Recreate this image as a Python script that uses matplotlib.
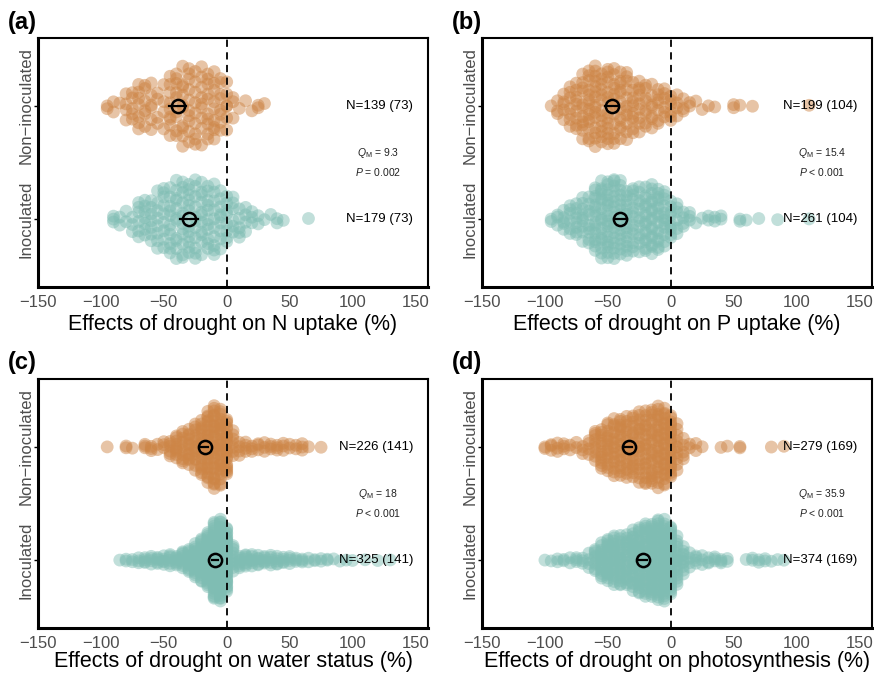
import numpy as np
import matplotlib
matplotlib.use("Agg")
import matplotlib.pyplot as plt

plt.rcParams["font.family"] = ["Liberation Sans", "DejaVu Sans"]
plt.rcParams["mathtext.fontset"] = "custom"
plt.rcParams["mathtext.rm"] = "Liberation Sans"
plt.rcParams["mathtext.it"] = "Liberation Sans:italic"

BIN_VALUES = list(range(-100, 155, 5))

COUNTS_A_NON = [0, 2, 2, 1, 4, 5, 7, 6, 6, 4,
                4, 9, 9, 10, 10, 9, 9, 10, 9, 8,
                6, 3, 1, 1, 1, 2, 1, 0, 0, 0,
                0, 0, 0, 0, 0, 0, 0, 0, 0, 0,
                0, 0, 0, 0, 0, 0, 0, 0, 0, 0, 0]
COUNTS_A_INO = [0, 0, 3, 2, 2, 3, 6, 7, 7, 8,
                9, 11, 11, 12, 12, 11, 11, 11, 10, 9,
                8, 6, 5, 4, 3, 2, 1, 1, 2, 1,
                0, 0, 0, 1, 0, 0, 0, 0, 0, 0,
                0, 0, 0, 0, 0, 0, 0, 0, 0, 0, 0]
COUNTS_B_NON = [0, 1, 3, 5, 7, 9, 11, 14, 15, 13,
                14, 13, 12, 11, 10, 9, 8, 7, 7, 6,
                6, 4, 3, 2, 1, 1, 1, 1, 0, 0,
                2, 1, 0, 1, 0, 0, 0, 0, 0, 0,
                0, 0, 1, 0, 0, 0, 0, 0, 0, 0, 0]
COUNTS_B_INO = [0, 2, 3, 5, 6, 8, 9, 9, 16, 17,
                19, 17, 16, 15, 13, 12, 15, 16, 15, 12,
                9, 6, 4, 3, 1, 1, 2, 2, 2, 0,
                0, 2, 1, 0, 1, 0, 0, 1, 0, 0,
                0, 0, 1, 0, 0, 0, 0, 0, 0, 0, 0]
COUNTS_C_NON = [0, 1, 0, 0, 2, 1, 0, 3, 3, 2,
                3, 6, 9, 10, 12, 14, 18, 24, 28, 27,
                21, 7, 4, 4, 3, 3, 3, 3, 3, 3,
                2, 2, 3, 1, 0, 1, 0, 0, 0, 0,
                0, 0, 0, 0, 0, 0, 0, 0, 0, 0, 0]
COUNTS_C_INO = [0, 0, 0, 1, 2, 2, 3, 4, 4, 5,
                5, 6, 6, 9, 12, 17, 21, 29, 39, 44,
                37, 9, 7, 7, 6, 6, 5, 5, 5, 4,
                4, 3, 3, 2, 2, 2, 2, 1, 1, 1,
                1, 0, 1, 0, 1, 0, 1, 0, 0, 0, 0]
COUNTS_D_NON = [2, 3, 3, 3, 2, 2, 3, 4, 9, 13,
                14, 16, 17, 16, 17, 19, 20, 21, 23, 24,
                22, 10, 5, 2, 2, 1, 0, 0, 1, 1,
                0, 2, 0, 0, 0, 0, 1, 0, 1, 0,
                0, 0, 0, 0, 0, 0, 0, 0, 0, 0, 0]
COUNTS_D_INO = [1, 1, 2, 2, 2, 3, 3, 4, 9, 15,
                18, 19, 19, 18, 23, 26, 27, 29, 32, 33,
                31, 15, 10, 4, 4, 3, 3, 3, 3, 2,
                0, 0, 1, 2, 2, 2, 1, 1, 1, 0,
                0, 0, 0, 0, 0, 0, 0, 0, 0, 0, 0]

# pooled means and 95% CI
MEAN_NON = [-39, -47, -17.5, -33.5]
CI_NON = [(-45.5, -32), (-52, -42), (-20.5, -14.5), (-36.5, -30.5)]
MEAN_INO = [-30, -40, -9.5, -22]
CI_INO = [(-37, -23), (-45, -35), (-12, -7), (-25, -19)]

N_NON = ["N=139 (73)", "N=199 (104)", "N=226 (141)", "N=279 (169)"]
N_INO = ["N=179 (73)", "N=261 (104)", "N=325 (141)", "N=374 (169)"]
QM = ["9.3", "15.4", "18", "35.9"]
PVAL = ["= 0.002", "< 0.001", "< 0.001", "< 0.001"]
XLABELS = ["Effects of drought on N uptake (%)",
           "Effects of drought on P uptake (%)",
           "Effects of drought on water status (%)",
           "Effects of drought on photosynthesis (%)"]
PANELS = ["(a)", "(b)", "(c)", "(d)"]
GROUPS = ["Inoculated", "Non\u2212inoculated"]

COUNTS_NON = [COUNTS_A_NON, COUNTS_B_NON, COUNTS_C_NON, COUNTS_D_NON]
COUNTS_INO = [COUNTS_A_INO, COUNTS_B_INO, COUNTS_C_INO, COUNTS_D_INO]

ORANGE = "#CD8546"
TEAL = "#7FBDB3"
GREY = "#4D4D4D"
W = 0.37


def vdc(n):
    out = []
    for i in range(1, n + 1):
        x, denom, k = 0.0, 1.0, i
        while k:
            k, r = divmod(k, 2)
            denom *= 2
            x += r / denom
        out.append(x)
    return np.array(out)


def quasirandom(v):
    # density-scaled van der Corput offsets (like ggbeeswarm)
    n = len(v)
    iqr = np.subtract(*np.percentile(v, [75, 25]))
    bw = 0.9 * min(v.std(ddof=1), iqr / 1.34) * n ** -0.2 * 0.8
    dens = np.exp(-0.5 * ((v[:, None] - v[None, :]) / bw) ** 2).sum(axis=1)
    dens = dens / dens.max()
    order = np.argsort(v, kind="stable")
    off = np.zeros(n)
    off[order] = (vdc(n) - 0.5) * 2 * W * dens[order]
    return off


def swarm(ax, counts, ypos, color):
    v = np.repeat(np.array(BIN_VALUES, dtype=float), counts)
    off = quasirandom(v)
    ax.scatter(v, ypos + off, s=85, c=color, alpha=0.48,
               edgecolors="none", zorder=2)


fig = plt.figure(figsize=(8.74, 6.73), dpi=100)
boxes = [(38, 38), (482, 38), (38, 379), (482, 379)]
for i, (px, py) in enumerate(boxes):
    ax = fig.add_axes([px / 874, 1 - (py + 249) / 673, 390 / 874, 249 / 673])
    swarm(ax, COUNTS_NON[i], 2, ORANGE)
    swarm(ax, COUNTS_INO[i], 1, TEAL)
    ax.axvline(0, color="black", ls=(0, (4, 3)), lw=1.3, zorder=3)

    for y, m, ci in [(2, MEAN_NON[i], CI_NON[i]), (1, MEAN_INO[i], CI_INO[i])]:
        ax.plot(ci, [y, y], color="black", lw=1.6, zorder=4)
        ax.plot(m, y, "o", mfc="none", mec="black", ms=9.5, mew=1.8, zorder=5)

    ax.text(148, 2, N_NON[i], ha="right", va="center", fontsize=9.5, zorder=6)
    ax.text(148, 1, N_INO[i], ha="right", va="center", fontsize=9.5, zorder=6)
    ax.text(120, 1.58, r"$Q_{\rm M}$ = " + QM[i], ha="center", va="center",
            fontsize=7.5, color="#222222")
    ax.text(120, 1.42, r"$P$ " + PVAL[i], ha="center", va="center",
            fontsize=7.5, color="#222222")

    ax.set_xlim(-150, 160)
    ax.set_ylim(0.4, 2.6)
    ax.set_xticks([-150, -100, -50, 0, 50, 100, 150])
    ax.set_yticks([1, 2])
    ax.set_yticklabels(GROUPS, rotation=90, va="center")
    ax.tick_params(axis="x", length=0, pad=5.5, labelsize=12, labelcolor=GREY)
    ax.tick_params(axis="y", length=3, width=1, pad=0.5, labelsize=12,
                   labelcolor=GREY)
    ax.set_xlabel(XLABELS[i], fontsize=15.5, labelpad=3 if i < 2 else 0)
    for side in ["left", "bottom"]:
        ax.spines[side].set_linewidth(2.2)
    for side in ["top", "right"]:
        ax.spines[side].set_linewidth(1.5)

    fig.text((px - 30) / 874, 1 - (py - 16) / 673, PANELS[i],
             fontsize=17, fontweight="bold", va="center", ha="left")

fig.savefig("out.png", dpi=100)
